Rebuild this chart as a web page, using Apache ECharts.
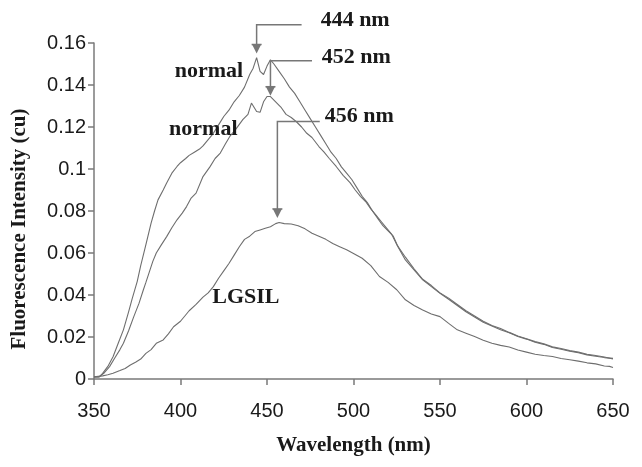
<!DOCTYPE html>
<html>
<head>
<meta charset="utf-8">
<script src="https://cdn.jsdelivr.net/npm/echarts@6/dist/echarts.min.js"></script>
<style>
html,body{margin:0;padding:0;background:#fff;}
#c{width:642px;height:467px;}
</style>
</head>
<body>
<div id="c"></div>
<script>
// Wavelength (nm) / fluorescence intensity (cu) pairs
var normalUpper = [
[350,0.001],[353,0.001],[355,0.0027],[358,0.006],[361,0.0106],[364,0.017],[367,0.0234],[370,0.032],[372,0.038],[375,0.0465],
[377,0.054],[380,0.064],[383,0.0742],[385,0.080],[387,0.0853],[390,0.090],[392,0.0933],[395,0.098],[398,0.1012],[400,0.103],
[403,0.105],[405,0.1065],[408,0.108],[411,0.1095],[413,0.111],[416,0.114],[419,0.117],[422,0.121],[425,0.125],[428,0.128],
[431,0.132],[434,0.135],[437,0.139],[440,0.145],[442,0.148],[444,0.153],[446,0.1465],[448,0.145],[450,0.149],[452,0.152],
[454,0.150],[457,0.1465],[460,0.143],[463,0.139],[466,0.136],[469,0.132],[472,0.128],[475,0.124],[478,0.120],[481,0.116],
[484,0.112],[487,0.108],[490,0.105],[493,0.101],[496,0.098],[499,0.095],[502,0.091],[505,0.087],[508,0.084],[511,0.080],
[514,0.0765],[517,0.073],[520,0.0705],[523,0.068],[526,0.0625],[530,0.0567],[535,0.052],[540,0.0472],[545,0.044],[550,0.0408],
[555,0.038],[560,0.035],[565,0.032],[570,0.0295],[575,0.027],[580,0.0252],[585,0.0235],[590,0.022],[595,0.0202],[600,0.019],
[605,0.0175],[610,0.0165],[615,0.015],[620,0.0142],[625,0.0132],[630,0.0125],[635,0.0115],[640,0.0108],[645,0.0102],[650,0.0098]
];
var normalLower = [
[350,0.001],[353,0.001],[356,0.003],[359,0.0059],[362,0.010],[365,0.014],[367,0.017],[370,0.023],[373,0.0297],[376,0.036],
[378.5,0.0424],[380,0.046],[382,0.051],[384,0.056],[386,0.060],[389,0.064],[392,0.0678],[395,0.072],[398,0.0758],[401,0.079],
[403.5,0.0821],[406,0.086],[409,0.0885],[413,0.0964],[417,0.101],[420,0.105],[423,0.1076],[426,0.112],[428.5,0.1155],[432,0.119],
[436,0.1235],[439,0.126],[441,0.1314],[444,0.1274],[446,0.127],[448,0.132],[450,0.1345],[452,0.1345],[455,0.132],[458,0.1295],
[461,0.126],[464,0.1245],[467,0.1225],[470,0.120],[473,0.117],[476,0.115],[480,0.1107],[483,0.108],[486,0.105],[490,0.1012],
[494,0.097],[498,0.0935],[501,0.090],[504,0.087],[507,0.0845],[510,0.081],[513,0.078],[516,0.075],[519,0.072],[522,0.069],
[525,0.064],[530,0.058],[535,0.0525],[540,0.0475],[545,0.0445],[550,0.041],[555,0.0385],[560,0.0355],[565,0.0325],[570,0.030],
[575,0.0275],[580,0.0255],[585,0.024],[590,0.0222],[595,0.0205],[600,0.0192],[605,0.0178],[610,0.0168],[615,0.0153],[620,0.0145],
[625,0.0135],[630,0.0128],[635,0.0118],[640,0.0112],[645,0.0105],[650,0.0095]
];
var lgsil = [
[350,0.001],[355,0.0015],[358,0.002],[361,0.0027],[365,0.004],[368,0.005],[371,0.0067],[374,0.008],[377,0.0095],[380,0.0122],
[383,0.014],[386,0.017],[390,0.0186],[393,0.0215],[396,0.0249],[400,0.0275],[405,0.0325],[409,0.0355],[413,0.039],[416,0.041],
[419,0.044],[422,0.048],[425,0.0515],[428,0.055],[431,0.059],[434,0.063],[437,0.0665],[440,0.068],[443,0.0702],[446,0.071],
[449,0.0718],[452,0.0725],[455,0.074],[457,0.0745],[460,0.074],[464,0.0738],[468,0.073],[472,0.0715],[476,0.0694],[480,0.068],
[484,0.0665],[488,0.0645],[492,0.063],[496,0.0615],[500,0.0598],[505,0.0575],[510,0.054],[515,0.0488],[520,0.046],[525,0.0425],
[530,0.0377],[535,0.035],[540,0.0329],[545,0.031],[550,0.0297],[555,0.0265],[560,0.0234],[565,0.0218],[570,0.0202],[575,0.0185],
[580,0.017],[585,0.016],[590,0.0152],[595,0.0138],[600,0.0128],[605,0.0118],[610,0.0112],[615,0.0107],[620,0.0098],[625,0.0092],
[630,0.0085],[635,0.0077],[640,0.0072],[645,0.0062],[648,0.006],[650,0.0055]
];
// peak annotations: [peak wavelength, tip value, elbow value, line end wavelength, label wavelength, label value, label]
var peakNotes = [
  [444, 0.155, 0.1687, 470, 481, 0.171, '444 nm'],
  [452, 0.1349, 0.1516, 476, 481.6, 0.153, '452 nm'],
  [456, 0.0767, 0.1226, 480.5, 483.4, 0.1249, '456 nm']
];
// curve labels: [wavelength, value, text]
var curveLabels = [
  [416.4, 0.1463, 'normal'],
  [413.2, 0.1187, 'normal'],
  [437.8, 0.0391, 'LGSIL']
];
var xTicks = {min:350, max:650, interval:50};
var yTicks = {min:0, max:0.16, interval:0.02};

var chart = echarts.init(document.getElementById('c'), null, {renderer:'canvas'});
var axisCol = '#7a7a7a';
var lineCol = '#6e6e6e';
var tickFont = {fontFamily:'Liberation Sans', fontSize:20, color:'#1a1a1a'};
function mkSeries(d){
  return {type:'line', data:d, showSymbol:false, symbol:'none', smooth:false,
    lineStyle:{color:lineCol, width:1.1}, animation:false, z:3};
}
chart.setOption({
  animation:false,
  backgroundColor:'#fff',
  grid:{left:94, right:29, top:43, bottom:88},
  xAxis:{type:'value', min:xTicks.min, max:xTicks.max, interval:xTicks.interval,
    name:'Wavelength (nm)', nameLocation:'middle', nameGap:56,
    nameTextStyle:{fontFamily:'Liberation Serif', fontWeight:'bold', fontSize:21, color:'#1a1a1a'},
    axisLine:{lineStyle:{color:axisCol, width:1.5}},
    axisTick:{show:true, length:6, lineStyle:{color:axisCol, width:1.5}},
    axisLabel:Object.assign({margin:22}, tickFont),
    splitLine:{show:false}},
  yAxis:{type:'value', min:yTicks.min, max:yTicks.max, interval:yTicks.interval,
    name:'Fluorescence Intensity (cu)', nameLocation:'middle', nameGap:64,
    nameTextStyle:{fontFamily:'Liberation Serif', fontWeight:'bold', fontSize:21, color:'#1a1a1a', padding:[0,36,0,0]},
    axisLine:{lineStyle:{color:axisCol, width:1.5}},
    axisTick:{show:true, length:6, lineStyle:{color:axisCol, width:1.5}},
    axisLabel:Object.assign({margin:8}, tickFont),
    splitLine:{show:false}},
  series:[mkSeries(normalUpper), mkSeries(normalLower), mkSeries(lgsil)]
});

function px(p){ return chart.convertToPixel({gridIndex:0}, p); }
var g = [];
peakNotes.forEach(function(n){
  var tip = px([n[0], n[1]]);
  var elbow = px([n[0], n[2]]);
  var end = px([n[3], n[2]]);
  var lab = px([n[4], n[5]]);
  g.push({type:'polyline', shape:{points:[[end[0],end[1]],[elbow[0],elbow[1]],[tip[0],tip[1]-8]]},
    style:{stroke:'#777', lineWidth:1.5, fill:null}, z:10});
  g.push({type:'polygon', shape:{points:[[tip[0]-4.5,tip[1]-9],[tip[0]+4.5,tip[1]-9],[tip[0],tip[1]]]},
    style:{fill:'#777'}, z:10});
  g.push({type:'line', shape:{x1:tip[0]-5,y1:tip[1]-9,x2:tip[0]+5,y2:tip[1]-9},
    style:{stroke:'#777', lineWidth:1.5}, z:10});
  g.push({type:'text', x:lab[0], y:lab[1], style:{text:n[6], fontFamily:'Liberation Serif', fontWeight:'bold',
    fontSize:22, fill:'#1a1a1a', verticalAlign:'middle', align:'left'}, z:10});
});
curveLabels.forEach(function(l){
  var p = px([l[0], l[1]]);
  g.push({type:'text', x:p[0], y:p[1], style:{text:l[2], fontFamily:'Liberation Serif', fontWeight:'bold',
    fontSize:22, fill:'#1a1a1a', verticalAlign:'middle', align:'center'}, z:10});
});
chart.setOption({graphic:g});
</script>
</body>
</html>
